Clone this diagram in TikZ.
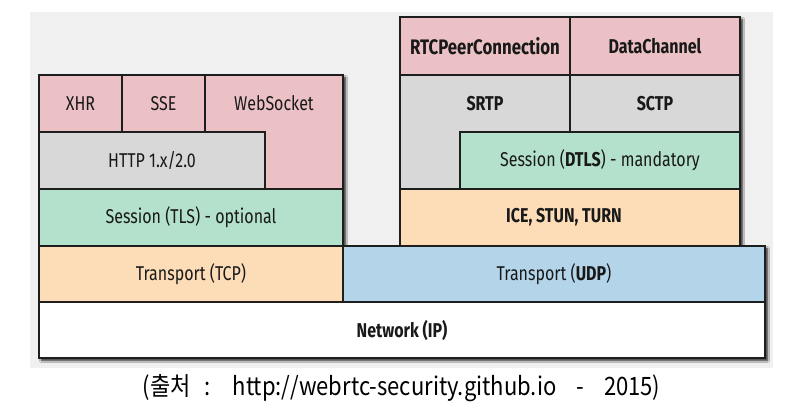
\documentclass[tikz,border=0pt]{standalone}
\usepackage{fontspec}
\setmainfont{Fira Sans}[FakeStretch=0.80]
\newfontfamily\krfont{Noto Sans CJK KR}
\usetikzlibrary{shadows.blur}
\definecolor{bgc}{RGB}{240,240,240}
\definecolor{pinkc}{RGB}{236,193,197}
\definecolor{greyc}{RGB}{216,216,216}
\definecolor{greenc}{RGB}{180,225,204}
\definecolor{peachc}{RGB}{253,221,184}
\definecolor{bluec}{RGB}{180,212,234}
\definecolor{edgec}{RGB}{30,30,30}
\tikzset{
  layer/.style={draw=edgec, line width=1.3pt, line join=miter},
  lbl/.style={font=\fontsize{20}{24}\selectfont, text=black!90, inner sep=0pt},
  blbl/.style={lbl, font=\fontsize{20}{24}\selectfont\bfseries},
  shad/.style={blur shadow={shadow xshift=2.5pt, shadow yshift=-2.5pt, shadow blur steps=6, shadow opacity=85}, fill=white},
}
\begin{document}
\begin{tikzpicture}[x=1pt,y=-1pt]
\useasboundingbox (0,0) rectangle (803,413);
\fill[bgc] (30,12) rectangle (773,368);
% shadows
\fill[shad] (39,75) -- (343,75) -- (343,246) -- (765,246) -- (765,358) -- (39,358) -- cycle;
\fill[shad] (400,17) -- (740,17) -- (740,246) -- (400,246) -- cycle;
% left stack
\draw[layer, fill=pinkc] (39,75) rectangle (122,132);
\draw[layer, fill=pinkc] (122,75) rectangle (205,132);
\draw[layer, fill=pinkc] (205,75) -- (343,75) -- (343,189) -- (265,189) -- (265,132) -- (205,132) -- cycle;
\draw[layer, fill=greyc] (39,132) rectangle (265,189);
\draw[layer, fill=greenc] (39,189) rectangle (343,246);
\draw[layer, fill=peachc] (39,246) rectangle (343,302);
% right stack
\draw[layer, fill=pinkc] (400,17) rectangle (570,75);
\draw[layer, fill=pinkc] (570,17) rectangle (740,75);
\draw[layer, fill=greyc] (400,75) -- (570,75) -- (570,132) -- (460,132) -- (460,189) -- (400,189) -- cycle;
\draw[layer, fill=greyc] (570,75) rectangle (740,132);
\draw[layer, fill=greenc] (460,132) rectangle (740,189);
\draw[layer, fill=peachc] (400,189) rectangle (740,246);
% bottom
\draw[layer, fill=bluec] (343,246) rectangle (765,302);
\draw[layer, fill=white] (39,302) rectangle (765,358);
% labels
\node[lbl] (xhr) at (80.5,103.5) {XHR};
\node[lbl] (sse) at (163.5,103.5) {SSE};
\node[lbl] (ws) at (274,103.5) {WebSocket};
\node[lbl] (http) at (152,160.5) {HTTP 1.x/2.0};
\node[lbl] (tls) at (191,217.5) {Session (TLS) - optional};
\node[lbl] (tcp) at (191,274) {Transport (TCP)};
\node[blbl, font=\fontsize{21}{24}\selectfont\bfseries] (rtc) at (485,46) {RTCPeerConnection};
\node[blbl] (dc) at (655,46) {DataChannel};
\node[blbl] (srtp) at (485,103.5) {SRTP};
\node[blbl] (sctp) at (655,103.5) {SCTP};
\node[lbl] (dtls) at (600,160.5) {Session (\textbf{DTLS}) - mandatory};
\node[blbl] (ice) at (564,217.5) {ICE, STUN, TURN};
\node[lbl] (udp) at (554,274) {Transport (\textbf{UDP})};
\node[blbl] (net) at (402,330) {Network (IP)};
\node[inner sep=0pt, font=\krfont\fontsize{22}{26}\selectfont, yscale=1.15] (cap) at (401.5,388) {(출처\hspace{14pt}:\hspace{22pt}http://webrtc-security.github.io\hspace{20pt}-\hspace{20pt}2015)};
\end{tikzpicture}
\end{document}
